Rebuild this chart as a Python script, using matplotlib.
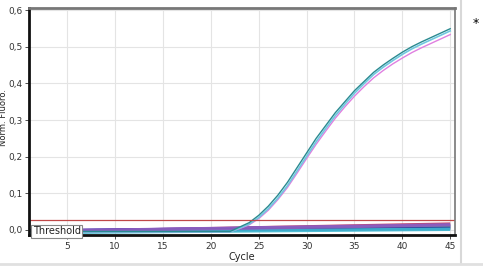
import matplotlib.pyplot as plt
from matplotlib.lines import Line2D
from matplotlib.ticker import FuncFormatter

cycles = list(range(1, 46))

# amplification curves
amp_a = [-0.004] * 22 + [0.008, 0.02, 0.04, 0.065, 0.095, 0.13, 0.17, 0.21, 0.25,
                         0.285, 0.32, 0.35, 0.38, 0.405, 0.43, 0.45, 0.468, 0.485,
                         0.50, 0.513, 0.525, 0.537, 0.549]
amp_b = [-0.005] * 22 + [0.005, 0.016, 0.034, 0.058, 0.087, 0.121, 0.161, 0.201, 0.241,
                         0.277, 0.312, 0.343, 0.373, 0.399, 0.424, 0.444, 0.462, 0.479,
                         0.494, 0.507, 0.519, 0.531, 0.543]
amp_c = [-0.005] * 22 + [0.004, 0.014, 0.031, 0.054, 0.083, 0.116, 0.155, 0.195, 0.234,
                         0.27, 0.305, 0.336, 0.365, 0.391, 0.415, 0.435, 0.453, 0.469,
                         0.484, 0.497, 0.509, 0.521, 0.533]

# flat (negative) samples: start and end values
flat_start = [-0.006, -0.004, -0.003, -0.005, -0.002, -0.007, -0.004]
flat_end = [0.016, 0.012, 0.010, 0.007, 0.004, 0.002, 0.014]
flat_colors = ["#c03058", "#3050c8", "#8040c8", "#30a070", "#2a2a9a", "#40b8d0", "#9060c0"]

threshold = 0.027

fig = plt.figure(figsize=(4.83, 2.67), dpi=100)
ax = fig.add_axes([0.060, 0.1187, 0.882, 0.852])

for s, e, c in zip(flat_start, flat_end, flat_colors):
    vals = [s + (e - s) * (i / 44) for i in range(45)]
    ax.plot(cycles, vals, color=c, lw=2.5, alpha=0.9, solid_capstyle="butt")

ax.plot(cycles, amp_c, color="#e080e0", lw=1.0)
ax.plot(cycles, amp_b, color="#70c8e0", lw=1.2)
ax.plot(cycles, amp_a, color="#2a8a90", lw=1.0)

ax.axhline(threshold, color="#c04848", lw=0.9)
ax.text(1.4, -0.004, "Threshold", fontsize=7, color="#222222", va="center", ha="left",
        bbox=dict(boxstyle="square,pad=0.15", fc="white", ec="#888888", lw=0.8))

ax.set_xlim(1, 45.5)
ax.set_ylim(-0.0145, 0.606)
ax.set_xticks(range(5, 46, 5))
ax.set_yticks([0.0, 0.1, 0.2, 0.3, 0.4, 0.5, 0.6])
ax.yaxis.set_major_formatter(FuncFormatter(lambda v, p: f"{v:.1f}".replace(".", ",")))
ax.tick_params(labelsize=6.5, length=3, width=0.6, colors="#333333", pad=1.5)
ax.grid(True, color="#e4e4e4", lw=0.8)
ax.set_axisbelow(True)

ax.spines["left"].set_linewidth(2)
ax.spines["left"].set_color("#111111")
ax.spines["bottom"].set_linewidth(2)
ax.spines["bottom"].set_color("#111111")
ax.spines["top"].set_linewidth(2)
ax.spines["top"].set_color("#777777")
ax.spines["right"].set_linewidth(1.2)
ax.spines["right"].set_color("#777777")

ax.set_xlabel("Cycle", fontsize=7, labelpad=1, color="#222222")
ax.set_ylabel("Norm. Fluoro.", fontsize=6, color="#222222", va="center")
ax.yaxis.set_label_coords(-0.059, 0.52)

fig.add_artist(Line2D([461 / 483, 461 / 483], [0.015, 1], color="#d8d8d8", lw=1.5))
fig.add_artist(Line2D([0, 1], [0.012, 0.012], color="#e0e0e0", lw=2))
fig.text(476 / 483, 1 - 24 / 267, "*", fontsize=9, ha="center", va="center")

fig.savefig("out.png", dpi=100)
